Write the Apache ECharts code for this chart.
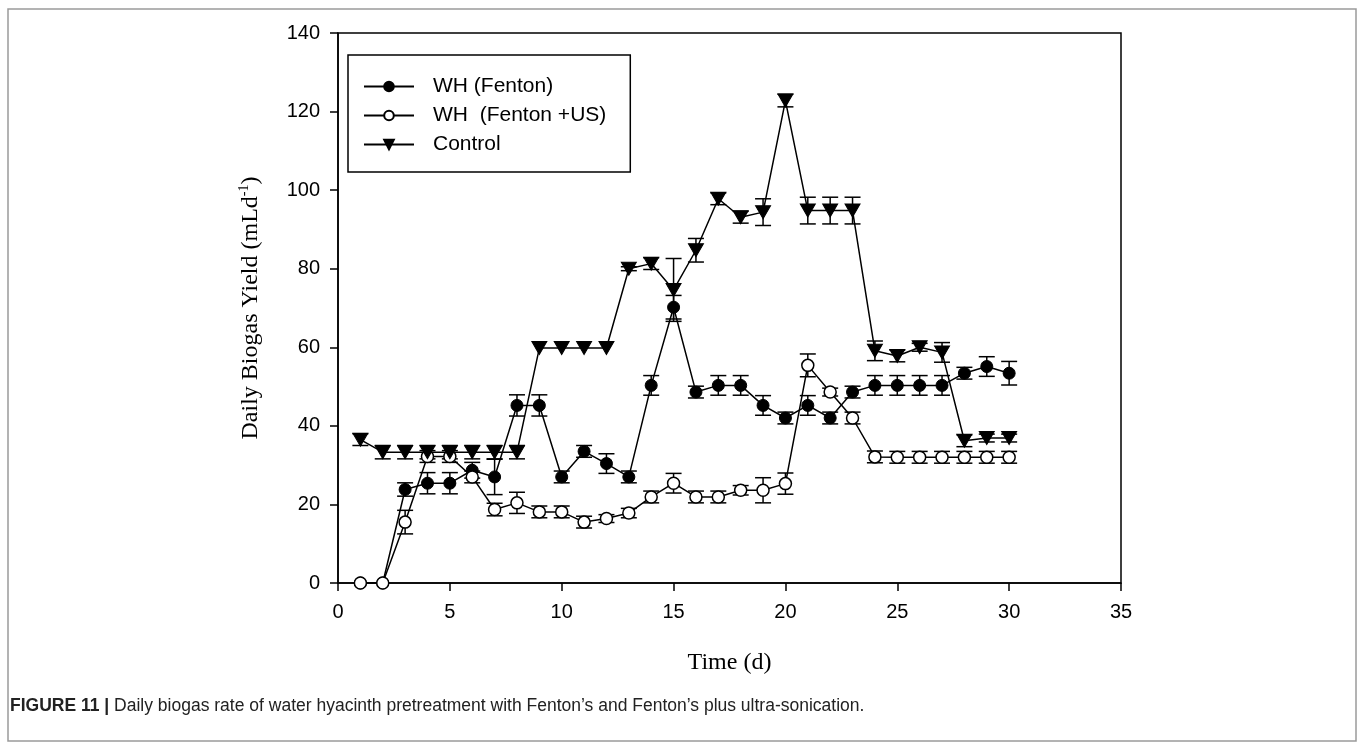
<!DOCTYPE html>
<html>
<head>
<meta charset="utf-8">
<script src="https://cdn.jsdelivr.net/npm/echarts@6/dist/echarts.min.js"></script>
<style>
html,body{margin:0;padding:0;background:#fff;}
#chart{width:1362px;height:747px;}
</style>
</head>
<body>
<div id="chart"></div>
<script>
const days = [1,2,3,4,5,6,7,8,9,10,11,12,13,14,15,16,17,18,19,20,21,22,23,24,25,26,27,28,29,30];
const fenton = [0,0,23.8,25.4,25.4,28.7,27,45.2,45.2,27,33.5,30.4,27,50.3,70.2,48.6,50.3,50.3,45.2,42,45.2,42,48.6,50.3,50.3,50.3,50.3,53.4,55.1,53.4];
const fentonErr = [0,0,1.7,2.7,2.7,2,4.5,2.7,2.7,1.5,1.5,2.5,1.5,2.5,3,1.5,2.5,2.5,2.5,1.5,2.5,1.5,1.5,2.5,2.5,2.5,2.5,1.5,2.5,3];
const fentonUS = [0,0,15.5,32.2,32.2,27,18.7,20.4,18.1,18.1,15.5,16.4,17.8,21.9,25.4,21.9,21.9,23.6,23.6,25.3,55.4,48.6,42,32.1,32,32,32,32,32,32];
const fentonUSErr = [0,0,3,1.5,1.5,1.5,1.6,2.7,1.5,1.5,1.5,1,1.2,1.5,2.5,1.5,1.5,1.2,3.2,2.7,2.9,1,1.5,1.5,1.5,1.5,1.5,1.5,1.5,1.5];
const control = [36.5,33.3,33.3,33.3,33.3,33.3,33.3,33.3,59.8,59.8,59.8,59.8,80,81.3,74.6,84.7,97.8,93.1,94.4,122.8,94.8,94.8,94.8,59.1,57.8,60,58.7,36.2,36.9,36.9];
const controlErr = [1.5,1.7,1.7,1.7,1.7,1.7,1.7,1.7,0,0,0,0,0.5,1.5,8,3,1.5,1.5,3.4,1.6,3.4,3.4,3.4,2.5,1.5,1,2.5,1.5,1,1];
const seriesNames = ['WH (Fenton)', 'WH  (Fenton +US)', 'Control'];
const xTicks = {min: 0, max: 35, interval: 5};
const yTicks = {min: 0, max: 140, interval: 20};

const sans = 'Liberation Sans, Arial, sans-serif';
const serif = 'Liberation Serif, Times New Roman, serif';

function pts(vals){ return days.map((d,i)=>[d, vals[i]]); }
function errPts(vals, errs){ return days.map((d,i)=>[d, vals[i], errs[i]]); }

function errRender(params, api){
  const x = api.value(0), y = api.value(1), e = api.value(2);
  if (!e) return null;
  const top = api.coord([x, y + e]);
  const bot = api.coord([x, y - e]);
  const hw = 8;
  const st = {stroke:'#000', lineWidth:1.5};
  return {type:'group', children:[
    {type:'line', shape:{x1:top[0], y1:top[1], x2:bot[0], y2:bot[1]}, style:st},
    {type:'line', shape:{x1:top[0]-hw, y1:top[1], x2:top[0]+hw, y2:top[1]}, style:st},
    {type:'line', shape:{x1:bot[0]-hw, y1:bot[1], x2:bot[0]+hw, y2:bot[1]}, style:st}
  ]};
}

function errSeries(vals, errs, z){
  return {type:'custom', renderItem: errRender, data: errPts(vals, errs),
    encode:{x:0, y:1}, z: z, silent:true, clip:false};
}

const chart = echarts.init(document.getElementById('chart'), null, {renderer:'canvas'});
const option = {
  backgroundColor:'#fff',
  animation:false,
  grid:{left:338, right:241, top:33, bottom:164, show:true, borderColor:'#000', borderWidth:1.5, backgroundColor:'transparent'},
  legend:{
    orient:'vertical', left:348, top:55,
    data: seriesNames,
    borderColor:'#000', borderWidth:1.5,
    padding:[21, 24, 17, 15],
    itemWidth:50, itemHeight:12, itemGap:8,
    textStyle:{fontFamily:sans, fontSize:21, color:'#000', padding:[0,0,0,14]}
  },
  xAxis:{
    type:'value', min:xTicks.min, max:xTicks.max, interval:xTicks.interval,
    name:'Time (d)', nameLocation:'middle', nameGap:68,
    nameTextStyle:{fontFamily:serif, fontSize:24, color:'#000'},
    axisLine:{show:true, lineStyle:{color:'#000', width:1.5}},
    axisTick:{show:true, inside:false, length:8, lineStyle:{color:'#000', width:1.5}},
    axisLabel:{fontFamily:sans, fontSize:20, color:'#000', margin:19},
    splitLine:{show:false}
  },
  yAxis:{
    type:'value', min:yTicks.min, max:yTicks.max, interval:yTicks.interval,
    name:'Daily Biogas Yield (mLd{sup|-1})', nameLocation:'middle', nameGap:73, nameRotate:90,
    nameTextStyle:{fontFamily:serif, fontSize:24, color:'#000',
      rich:{sup:{fontFamily:serif, fontSize:14, color:'#000', verticalAlign:'top', padding:[0,0,14,0]}}},
    axisLine:{show:true, lineStyle:{color:'#000', width:1.5}},
    axisTick:{show:true, inside:false, length:8, lineStyle:{color:'#000', width:1.5}},
    axisLabel:{fontFamily:sans, fontSize:20, color:'#000', margin:18},
    splitLine:{show:false}
  },
  series:[
    errSeries(fenton, fentonErr, 1),
    errSeries(fentonUS, fentonUSErr, 1),
    errSeries(control, controlErr, 1),
    {name:seriesNames[0], type:'line', data:pts(fenton), z:3,
      symbol:'circle', symbolSize:12, showAllSymbol:true,
      lineStyle:{color:'#000', width:1.5},
      itemStyle:{color:'#000', borderColor:'#000', borderWidth:1}},
    {name:seriesNames[1], type:'line', data:pts(fentonUS), z:4,
      symbol:'circle', symbolSize:12, showAllSymbol:true,
      lineStyle:{color:'#000', width:1.5},
      itemStyle:{color:'#fff', borderColor:'#000', borderWidth:1.5}},
    {name:seriesNames[2], type:'line', data:pts(control), z:5,
      symbol:'triangle', symbolRotate:180, symbolSize:[15,13], showAllSymbol:true,
      lineStyle:{color:'#000', width:1.5},
      itemStyle:{color:'#000', borderColor:'#000', borderWidth:1}}
  ],
  graphic:[
    {type:'rect', shape:{x:8, y:9, width:1348, height:732}, style:{fill:'none', stroke:'#9a9a9a', lineWidth:1.5}, silent:true, z:-1},
    {type:'text', x:10, y:697, style:{
      text:'{b|FIGURE 11 |} Daily biogas rate of water hyacinth pretreatment with Fenton\u2019s and Fenton\u2019s plus ultra-sonication.',
      fontFamily:sans, fontSize:17.5, fill:'#222',
      rich:{b:{fontFamily:sans, fontSize:17.5, fontWeight:'bold', fill:'#222'}}
    }}
  ]
};
chart.setOption(option);
</script>
</body>
</html>
